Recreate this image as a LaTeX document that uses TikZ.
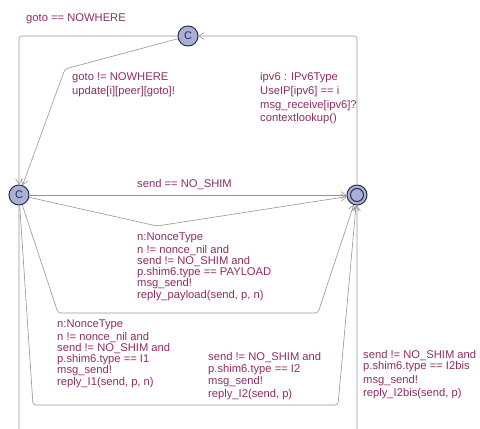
\documentclass[tikz,border=0pt]{standalone}
\usepackage{fontspec}
\setmainfont{Liberation Sans}
\usetikzlibrary{arrows.meta}
\definecolor{lbl}{RGB}{140,45,100}
\definecolor{edgegray}{RGB}{150,150,150}
\definecolor{locfill}{RGB}{168,176,216}
\definecolor{locdraw}{RGB}{45,45,75}
\begin{document}
\begin{tikzpicture}[x=1pt,y=-1pt,
  loc/.style={circle,draw=locdraw,fill=locfill,line width=1pt,minimum size=20pt,inner sep=0pt,
    font=\fontsize{11}{11}\selectfont,text=locdraw},
  initloc/.style={loc,path picture={\draw[locdraw,line width=1pt] (path picture bounding box.center) circle (6.5pt);}},
  trans/.style={draw=edgegray,line width=0.6pt,rounded corners=3pt,-{Straight Barb[length=5pt,width=7pt]}},
  lab/.style={anchor=base west,inner sep=0pt,text=lbl,font=\fontsize{11.2}{13}\selectfont}]
\useasboundingbox (0,0) rectangle (480,429);
\clip (0,0) rectangle (480,429);
% locations
\node[loc] (topC) at (188,36) {C};
\node[loc] (leftC) at (19,195) {C};
\node[initloc] (rightN) at (357,195) {};
% transitions
\draw[trans] (topC) -- (19,36) -- (leftC);
\draw[trans] (topC) -- (65,69) -- (leftC);
\draw[trans] (rightN) -- (357,36) -- (topC);
\draw[trans] (leftC) -- (rightN);
\draw[trans] (leftC) -- (157,226) -- (rightN);
\draw[trans] (leftC) -- (58,313) -- (318,313) -- (rightN);
\draw[trans] (leftC) -- (33,405) -- (338,405) -- (rightN);
\draw[trans] (leftC) -- (19,450) -- (357,450) -- (rightN);
% labels
\node[lab] (l1) at (26,21) {goto == NOWHERE};
\node[lab] (l2a) at (72,80.5) {goto != NOWHERE};
\node[lab] (l2b) at (72,94.5) {update[i][peer][goto]!};
\node[lab] (l3a) at (260,80) {ipv6 : IPv6Type};
\node[lab] (l3b) at (260,94) {UseIP[ipv6] == i};
\node[lab] (l3c) at (260,108) {msg\_receive[ipv6]?};
\node[lab] (l3d) at (260,121.5) {contextlookup()};
\node[lab] (l4) at (137,187.5) {send == NO\_SHIM};
% payload
\node[lab] (l5a) at (137,240) {n:NonceType};
\node[lab] (l5b) at (137,253) {n != nonce\_nil and};
\node[lab] (l5c) at (137,264) {send != NO\_SHIM and};
\node[lab] (l5d) at (137,275.5) {p.shim6.type == PAYLOAD};
\node[lab] (l5e) at (137,286) {msg\_send!};
\node[lab] (l5f) at (137,298) {reply\_payload(send, p, n)};
% I1
\node[lab] (l6a) at (57,327) {n:NonceType};
\node[lab] (l6b) at (57,340) {n != nonce\_nil and};
\node[lab] (l6c) at (57,351) {send != NO\_SHIM and};
\node[lab] (l6d) at (57,362.5) {p.shim6.type == I1};
\node[lab] (l6e) at (57,373) {msg\_send!};
\node[lab] (l6f) at (57,385.5) {reply\_I1(send, p, n)};
% I2
\node[lab] (l7a) at (208,360.5) {send != NO\_SHIM and};
\node[lab] (l7b) at (208,372) {p.shim6.type == I2};
\node[lab] (l7c) at (208,384.5) {msg\_send!};
\node[lab] (l7d) at (208,397.5) {reply\_I2(send, p)};
% I2bis
\node[lab] (l8a) at (363,358) {send != NO\_SHIM and};
\node[lab] (l8b) at (363,369.5) {p.shim6.type == I2bis};
\node[lab] (l8c) at (363,383) {msg\_send!};
\node[lab] (l8d) at (363,396) {reply\_I2bis(send, p)};
\end{tikzpicture}
\end{document}
